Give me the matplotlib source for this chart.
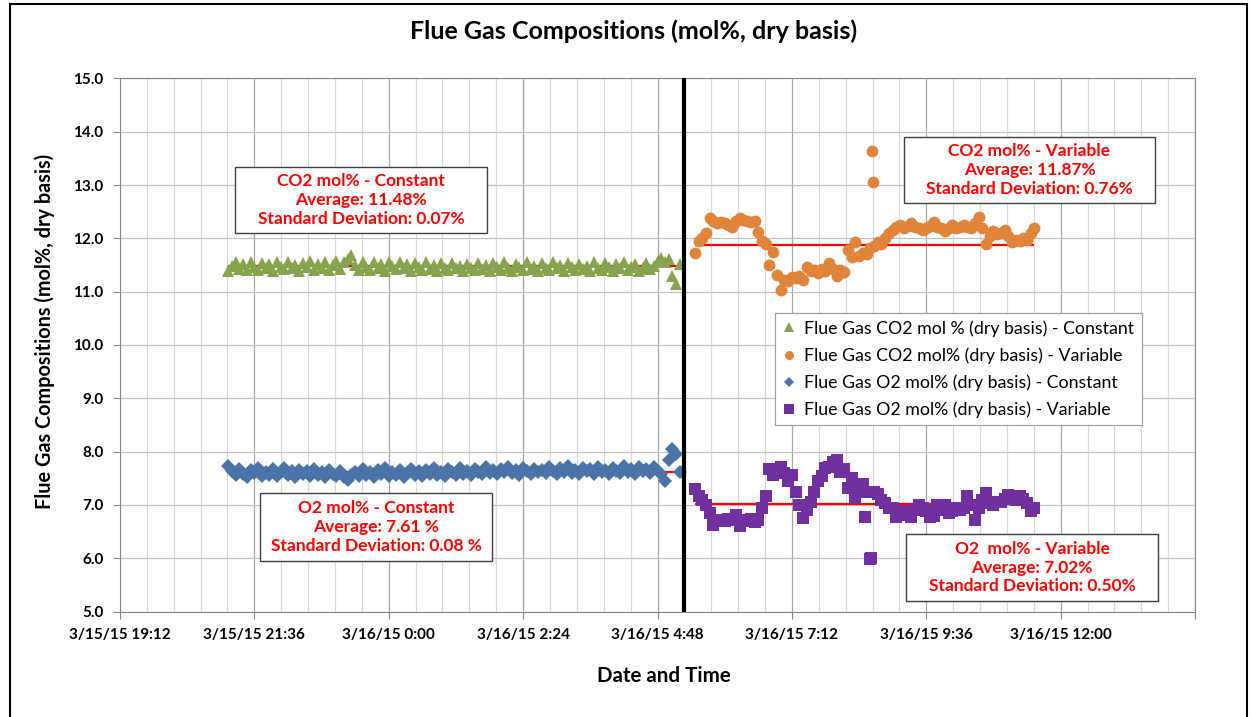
import datetime as dt
import matplotlib
matplotlib.use("Agg")
import matplotlib.pyplot as plt
import matplotlib.dates as mdates
from matplotlib.patches import Rectangle
from matplotlib.lines import Line2D
from matplotlib.ticker import MultipleLocator, FuncFormatter
import pandas as pd

# ---- data ----
const_start = "2015-03-15 21:08"      # constant-flow run, one reading every 4 min
const_step = "4min"
var_start = "2015-03-16 05:28"        # variable-flow run, one reading every 4 min
var_step = "4min"
switch_time = "2015-03-16 05:16"      # change-over marked by the black line

co2_const = [
    11.38, 11.48, 11.55, 11.43, 11.52, 11.40, 11.56, 11.46, 11.41, 11.54, 11.44, 11.51,
    11.39, 11.55, 11.47, 11.42, 11.56, 11.44, 11.50, 11.38, 11.53, 11.46, 11.57, 11.41,
    11.52, 11.45, 11.55, 11.40, 11.50, 11.58, 11.43, 11.56, 11.62, 11.68, 11.50, 11.41,
    11.55, 11.47, 11.40, 11.56, 11.44, 11.52, 11.39, 11.55, 11.48, 11.42, 11.56, 11.45,
    11.51, 11.39, 11.54, 11.46, 11.41, 11.55, 11.43, 11.50, 11.38, 11.53, 11.45, 11.40,
    11.54, 11.44, 11.49, 11.38, 11.52, 11.45, 11.40, 11.54, 11.43, 11.50, 11.39, 11.53,
    11.46, 11.41, 11.55, 11.44, 11.38, 11.51, 11.47, 11.40, 11.56, 11.43, 11.49, 11.39,
    11.53, 11.45, 11.41, 11.55, 11.44, 11.50, 11.38, 11.54, 11.46, 11.40, 11.52, 11.43,
    11.49, 11.39, 11.55, 11.44, 11.41, 11.53, 11.46, 11.38, 11.51, 11.44, 11.55, 11.40,
    11.47, 11.52, 11.39, 11.45, 11.54, 11.42, 11.48, 11.58, 11.64, 11.56, 11.62, 11.30,
    11.15, 11.52,
]

o2_const = [
    7.73, 7.64, 7.56, 7.68, 7.58, 7.53, 7.66, 7.60, 7.70, 7.55, 7.62, 7.57,
    7.67, 7.54, 7.61, 7.69, 7.56, 7.63, 7.52, 7.66, 7.58, 7.64, 7.55, 7.68,
    7.57, 7.62, 7.53, 7.66, 7.59, 7.55, 7.64, 7.52, 7.47, 7.56, 7.62, 7.54,
    7.67, 7.57, 7.61, 7.53, 7.65, 7.58, 7.69, 7.55, 7.62, 7.57, 7.66, 7.53,
    7.60, 7.68, 7.56, 7.63, 7.54, 7.66, 7.59, 7.70, 7.57, 7.62, 7.55, 7.67,
    7.61, 7.57, 7.69, 7.59, 7.64, 7.56, 7.68, 7.62, 7.58, 7.71, 7.60, 7.65,
    7.58, 7.67, 7.62, 7.72, 7.60, 7.66, 7.57, 7.70, 7.63, 7.59, 7.68, 7.61,
    7.66, 7.60, 7.71, 7.63, 7.58, 7.69, 7.62, 7.73, 7.60, 7.66, 7.58, 7.70,
    7.63, 7.68, 7.59, 7.72, 7.61, 7.66, 7.58, 7.70, 7.64, 7.60, 7.73, 7.62,
    7.67, 7.59, 7.71, 7.63, 7.68, 7.60, 7.72, 7.64, 7.58, 7.45, 7.85, 8.05,
    7.95, 7.62,
]

co2_var = [
    11.73, 11.95, 12.00, 12.10, 12.38, 12.32, 12.28, 12.30, 12.29, 12.25, 12.22, 12.32,
    12.38, 12.35, 12.33, 12.30, 12.32, 12.12, 11.95, 11.90, 11.50, 11.75, 11.32, 11.03,
    11.22, 11.20, 11.28, 11.25, 11.30, 11.22, 11.47, 11.38, 11.40, 11.35, 11.42, 11.38,
    11.53, 11.42, 11.30, 11.40, 11.37, 11.78, 11.65, 11.94, 11.66, 11.72, 11.70, 11.81,
    11.85, 11.94, 11.90, 12.00, 12.10, 12.16, 12.22, 12.25, 12.20, 12.24, 12.28, 12.22,
    12.20, 12.16, 12.20, 12.24, 12.31, 12.22, 12.20, 12.13, 12.20, 12.25, 12.20, 12.22,
    12.25, 12.22, 12.20, 12.28, 12.40, 12.19, 11.90, 12.05, 12.13, 12.08, 12.10, 12.16,
    12.05, 11.94, 11.97, 11.95, 12.00, 11.97, 12.10, 12.20,
]

o2_var = [
    7.30, 7.16, 7.10, 7.00, 6.84, 6.62, 6.70, 6.72, 6.70, 6.74, 6.72, 6.82,
    6.60, 6.72, 6.70, 6.74, 6.68, 6.72, 6.94, 7.16, 7.68, 7.56, 7.62, 7.72,
    7.60, 7.44, 7.56, 7.25, 7.00, 6.75, 6.90, 7.05, 7.25, 7.45, 7.55, 7.69,
    7.72, 7.80, 7.84, 7.62, 7.68, 7.31, 7.50, 7.13, 7.31, 7.40, 7.25, 7.25,
    7.25, 7.20, 7.09, 7.03, 6.94, 6.94, 6.78, 6.82, 6.88, 6.85, 6.78, 6.90,
    7.00, 6.95, 6.88, 6.78, 6.80, 7.00, 6.90, 7.00, 6.84, 6.88, 6.94, 6.90,
    6.95, 7.16, 7.00, 6.72, 6.94, 7.10, 7.22, 7.03, 7.00, 7.06, 7.05, 7.12,
    7.19, 7.15, 7.10, 7.16, 7.12, 7.03, 6.88, 6.95,
]

# stray readings around 8:30-8:40
co2_spike_times = ["2015-03-16 08:38", "2015-03-16 08:39"]
co2_spike_vals = [13.63, 13.06]
o2_spike_times = ["2015-03-16 08:30", "2015-03-16 08:36", "2015-03-16 08:37"]
o2_spike_vals = [6.78, 5.99, 6.01]

averages = {"co2_const": 11.48, "co2_var": 11.87, "o2_const": 7.61, "o2_var": 7.02}

labels = [
    "Flue Gas CO2 mol % (dry basis) - Constant",
    "Flue Gas CO2 mol% (dry basis) - Variable",
    "Flue Gas O2 mol% (dry basis) - Constant",
    "Flue Gas O2 mol% (dry basis) - Variable",
]
box_texts = [
    "CO2 mol% - Constant\nAverage: 11.48%\nStandard Deviation: 0.07%",
    "CO2 mol% - Variable\nAverage: 11.87%\nStandard Deviation: 0.76%",
    "O2 mol% - Constant\nAverage: 7.61 %\nStandard Deviation: 0.08 %",
    "O2  mol% - Variable\nAverage: 7.02%\nStandard Deviation: 0.50%",
]

# ---- build time axes ----
t_const = pd.date_range(const_start, periods=len(co2_const), freq=const_step)
t_var = pd.date_range(var_start, periods=len(co2_var), freq=var_step)
t_co2_var = pd.DatetimeIndex(list(t_var) + list(pd.to_datetime(co2_spike_times)))
v_co2_var = co2_var + co2_spike_vals
t_o2_var = pd.DatetimeIndex(list(t_var) + list(pd.to_datetime(o2_spike_times)))
v_o2_var = o2_var + o2_spike_vals

plt.rcParams["font.family"] = ["Lato", "DejaVu Sans"]

W, H = 1255, 717
fig = plt.figure(figsize=(W / 100, H / 100), dpi=100)
ax = fig.add_axes([120 / W, 1 - 611.6 / H, 1075 / W, 533.2 / H])

def fx(px):
    return px / W

def fy(py):
    return 1 - py / H

green, orange, blue, purple = "#86a34d", "#e0843a", "#4a74a8", "#7030a0"

# average lines sit under the markers
ax.hlines(averages["co2_const"], t_const[0], t_const[-1], color="red", lw=1.6, zorder=2)
ax.hlines(averages["o2_const"], t_const[0], t_const[-1], color="red", lw=1.6, zorder=2)
ax.hlines(averages["co2_var"], t_var[0], t_var[-1], color="red", lw=1.6, zorder=2)
ax.hlines(averages["o2_var"], t_var[0], t_var[-1], color="red", lw=1.6, zorder=2)

ax.plot(t_const.values, co2_const, ls="none", marker="^", ms=9, color=green, mew=0, zorder=3)
ax.plot(t_co2_var.values, v_co2_var, ls="none", marker="o", ms=8.5, color=orange, mew=0, zorder=3)
ax.plot(t_const.values, o2_const, ls="none", marker="D", ms=7.5, color=blue, mew=0, zorder=3)
ax.plot(t_o2_var.values, v_o2_var, ls="none", marker="s", ms=8, color=purple, mew=0, zorder=3)

ax.axvline(pd.Timestamp(switch_time), color="black", lw=3, zorder=5)

# axes, grid, ticks
x_end = dt.datetime(2015, 3, 16, 14, 24)
ax.set_xlim(dt.datetime(2015, 3, 15, 19, 12), x_end)
ax.set_ylim(5, 15)
ax.xaxis.set_major_locator(MultipleLocator(0.1))
ax.xaxis.set_minor_locator(MultipleLocator(0.02))
ax.yaxis.set_major_locator(MultipleLocator(1))

def date_label(x, pos):
    if x > mdates.date2num(x_end) - 0.01:
        return ""
    d = mdates.num2date(x + 1 / 2880)
    return f"{d.month}/{d.day}/{d.year % 100} {d.hour}:{d.minute:02d}"

ax.xaxis.set_major_formatter(FuncFormatter(date_label))
ax.yaxis.set_major_formatter(FuncFormatter(lambda v, p: f"{v:.1f}"))

ax.grid(True, which="major", axis="x", color="#a6a6a6", lw=0.9, zorder=0)
ax.grid(True, which="minor", axis="x", color="#d9d9d9", lw=0.9, zorder=0)
ax.grid(True, which="major", axis="y", color="#c0c0c0", lw=0.9, zorder=0)
ax.set_axisbelow(True)
for sp in ax.spines.values():
    sp.set_color("#868686")
ax.tick_params(axis="both", which="major", length=5, color="#868686", labelsize=11, pad=7)
ax.tick_params(axis="x", which="minor", length=0)
for lab in ax.get_xticklabels() + ax.get_yticklabels():
    lab.set_fontweight("bold")

# titles
fig.text(fx(634), fy(31), "Flue Gas Compositions (mol%, dry basis)", ha="center", va="center",
         fontsize=18, fontweight="bold")
fig.text(fx(45), fy(331), "Flue Gas Compositions (mol%, dry basis)", ha="center", va="center",
         rotation=90, fontsize=14.3, fontweight="bold")
fig.text(fx(664), fy(676), "Date and Time", ha="center", va="center", fontsize=14.8, fontweight="bold")

# legend
handles = [
    Line2D([], [], ls="none", marker="^", ms=6.5, color=green, mew=0),
    Line2D([], [], ls="none", marker="o", ms=6.5, color=orange, mew=0),
    Line2D([], [], ls="none", marker="D", ms=5.5, color=blue, mew=0),
    Line2D([], [], ls="none", marker="s", ms=6.5, color=purple, mew=0),
]
leg = ax.legend(handles, labels, loc="upper left", bbox_to_anchor=(fx(775), fy(313)),
                bbox_transform=fig.transFigure, fontsize=12.8, frameon=True, fancybox=False,
                edgecolor="#a0a0a0", framealpha=1, borderpad=0.4, labelspacing=0.6,
                handlelength=0.8, handletextpad=0.45, borderaxespad=0)
leg.get_frame().set_linewidth(0.9)
leg.set_zorder(6)

# stat boxes
boxes = [(235, 167, 487, 233), (904, 137, 1155, 203), (260, 493, 492, 561), (906, 534, 1158, 601)]
for (x0, y0, x1, y1), txt in zip(boxes, box_texts):
    fig.patches.append(Rectangle((fx(x0), fy(y1)), fx(x1) - fx(x0), fy(y0) - fy(y1),
                                 transform=fig.transFigure, facecolor="white",
                                 edgecolor="#404040", lw=1.0, zorder=1))
    fig.text(fx((x0 + x1) / 2), fy((y0 + y1) / 2), txt, ha="center", va="center",
             color="red", fontsize=12.5, fontweight="bold", linespacing=1.22, zorder=2)

# chart frame
fig.patches.append(Rectangle((fx(10), -0.02), fx(1247) - fx(10), fy(4) + 0.02,
                             transform=fig.transFigure, fill=False, edgecolor="black",
                             lw=1.5, zorder=0))

fig.savefig("out.png", dpi=100)
